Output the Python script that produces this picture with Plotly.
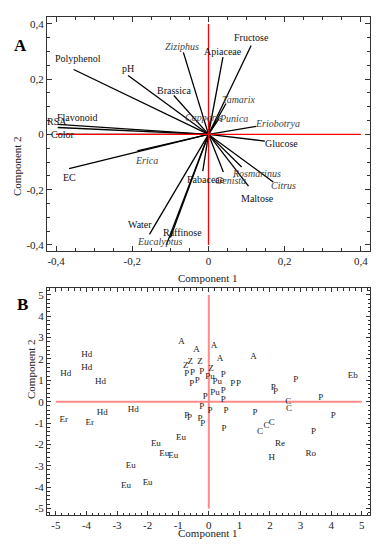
import plotly.graph_objects as go

# ---------------- Panel A: loadings (biplot vectors) ----------------
vec_names = ["Polyphenol", "pH", "Brassica", "Ziziphus", "Apiaceae", "Fructose",
             "Tamarix", "Punica", "Capparis", "Eriobotrya", "Glucose", "Rosmarinus",
             "Citrus", "Maltose", "Genista", "Fabaceae", "Water", "Raffinose",
             "Eucalyptus", "Erica", "EC", "Flavonoid", "RSA", "Color"]
vec_x = [-0.354, -0.211, -0.091, -0.066, 0.038, 0.112,
         0.046, 0.028, 0.004, 0.125, 0.148, 0.087,
         0.170, 0.105, 0.039, -0.015, -0.155, -0.100,
         -0.111, -0.187, -0.366, -0.396, -0.396, -0.400]
vec_y = [0.235, 0.213, 0.141, 0.297, 0.280, 0.322,
         0.112, 0.058, 0.047, 0.029, -0.024, -0.118,
         -0.172, -0.187, -0.136, -0.133, -0.362, -0.373,
         -0.401, -0.060, -0.124, 0.036, 0.025, 0.000]
italic_names = {"Ziziphus", "Tamarix", "Punica", "Capparis", "Eriobotrya",
                "Rosmarinus", "Citrus", "Genista", "Eucalyptus", "Erica"}
# label offsets in pixels (style only)
label_shift = {
    "Polyphenol": (4, 11), "pH": (0, 7), "Brassica": (0, 5), "Ziziphus": (-1, 6),
    "Apiaceae": (0, 6), "Fructose": (0, 8), "Tamarix": (13, 4), "Punica": (14, 0),
    "Capparis": (-7, 4), "Eriobotrya": (21, 3), "Glucose": (17, -2),
    "Rosmarinus": (15, -6), "Citrus": (10, -4), "Maltose": (9, -12),
    "Genista": (7, -9), "Fabaceae": (3, -8), "Water": (-9, 10),
    "Raffinose": (12, 5), "Eucalyptus": (-6, 4), "Erica": (9, -10),
    "EC": (0, -9), "Flavonoid": (20, 7), "RSA": (-1, 6), "Color": (6, 0),
}

# ---------------- Panel B: scores ----------------
pt_labels = (["Hd"] * 6 + ["Er"] * 2 + ["Eu"] * 7 + ["A"] * 5 + ["Z"] * 4 +
             ["Pu"] * 3 + ["P"] * 26 + ["C"] * 5 + ["Eb", "Re", "H", "Ro"])
pt_x = [-4.68, -3.99, -3.99, -3.54, -3.48, -2.47,
        -4.74, -3.89,
        -2.55, -2.71, -2.00, -1.73, -1.46, -1.16, -0.91,
        -0.89, -0.40, 0.17, 0.37, 1.46,
        -0.75, -0.61, -0.29, 0.07,
        0.04, 0.28, 0.20,
        -0.72, -0.53, -0.23, 0.47, -0.56, -0.38, 0.78, 0.97, 0.47, -0.12,
        0.47, -0.23, 0.04, 0.56, -0.72, -0.63, -0.29, -0.20, 0.50, 1.51,
        2.11, 2.18, 2.84, 3.66, 3.42, 4.07,
        2.60, 2.62, 1.67, 1.89, 2.06,
        4.71, 2.33, 2.06, 3.33]
pt_y = [1.33, 2.19, 1.61, 0.91, -0.52, -0.36,
        -0.86, -0.97,
        -3.01, -3.94, -3.80, -1.95, -2.45, -2.53, -1.67,
        2.81, 2.42, 2.64, 2.02, 2.08,
        1.67, 1.85, 1.85, 1.52,
        1.17, 0.94, 0.42,
        1.30, 1.36, 1.41, 1.25, 0.86, 0.98, 0.83, 0.83, 0.52, 0.23,
        0.11, -0.23, -0.44, -0.44, -0.67, -0.76, -0.78, -1.05, -1.28, -0.54,
        0.63, 0.47, 1.02, 0.19, -1.43, -0.67,
        0.00, -0.31, -1.41, -1.13, -0.97,
        1.20, -1.95, -2.65, -2.45]

# ---------------- Figure ----------------
W, H = 384, 550
SERIF = "Liberation Serif, Times New Roman, Times, serif"

def px2paper_x(px):
    return px / W

def px2paper_y(py):
    return 1 - py / H

fig = go.Figure()

# Vectors of panel A
lx, ly = [], []
for x, y in zip(vec_x, vec_y):
    lx += [0, x, None]
    ly += [0, y, None]
fig.add_trace(go.Scatter(x=lx, y=ly, mode="lines", line=dict(color="black", width=1.3),
                         xaxis="x", yaxis="y", hoverinfo="skip", showlegend=False))
# red axes lines panel A
fig.add_trace(go.Scatter(x=[-0.4, 0.4], y=[0, 0], mode="lines", line=dict(color="red", width=1.3),
                         xaxis="x", yaxis="y", showlegend=False, hoverinfo="skip"))
fig.add_trace(go.Scatter(x=[0, 0], y=[-0.4, 0.4], mode="lines", line=dict(color="red", width=1.3),
                         xaxis="x", yaxis="y", showlegend=False, hoverinfo="skip"))

annotations = []
for name, x, y in zip(vec_names, vec_x, vec_y):
    dx, dy = label_shift[name]
    txt = f"<i>{name}</i>" if name in italic_names else name
    annotations.append(dict(x=x, y=y, xref="x", yref="y", text=txt, showarrow=False,
                            xshift=dx, yshift=dy,
                            font=dict(family=SERIF, size=10,
                                      color="#444" if name in italic_names else "#111")))

# red axes lines panel B
fig.add_trace(go.Scatter(x=[-5, 5], y=[0, 0], mode="lines", line=dict(color="#ff8a8a", width=2),
                         xaxis="x2", yaxis="y2", showlegend=False, hoverinfo="skip"))
fig.add_trace(go.Scatter(x=[0, 0], y=[-5, 5], mode="lines", line=dict(color="#ff8a8a", width=2),
                         xaxis="x2", yaxis="y2", showlegend=False, hoverinfo="skip"))
# score labels panel B
fig.add_trace(go.Scatter(x=pt_x, y=pt_y, mode="text", text=pt_labels,
                         textposition="middle center",
                         textfont=dict(family=SERIF, size=9, color="#222"),
                         xaxis="x2", yaxis="y2", showlegend=False, hoverinfo="skip"))

xdom = [px2paper_x(47), px2paper_x(370)]
axis_common = dict(showline=True, linecolor="#333", linewidth=1, mirror="ticks",
                   ticks="inside", tickcolor="#333", showgrid=False, zeroline=False,
                   automargin=False,
                   tickfont=dict(family=SERIF, size=11, color="#222"))

fig.update_layout(
    width=W, height=H, margin=dict(l=0, r=0, t=0, b=0, autoexpand=False),
    plot_bgcolor="white", paper_bgcolor="white", showlegend=False,
    font=dict(family=SERIF),
    xaxis=dict(domain=xdom, range=[-0.424, 0.424], anchor="y",
               tickvals=[-0.4, -0.2, 0, 0.2, 0.4],
               ticktext=["-0,4", "-0,2", "0", "0,2", "0,4"], ticklen=5,
               minor=dict(ticks="inside", dtick=0.05, ticklen=3, tickcolor="#333"),
               **axis_common),
    yaxis=dict(domain=[px2paper_y(251), px2paper_y(17)], range=[-0.422, 0.425], anchor="x",
               tickvals=[-0.4, -0.2, 0, 0.2, 0.4],
               ticktext=["-0,4", "-0,2", "0", "0,2", "0,4"], ticklen=5,
               minor=dict(ticks="inside", dtick=0.05, ticklen=3, tickcolor="#333"),
               **axis_common),
    xaxis2=dict(domain=xdom, range=[-5.29, 5.27], anchor="y2",
                tickvals=[-5, -4, -3, -2, -1, 0, 1, 2, 3, 4, 5],
                ticktext=["-5", "-4", "-3", "-2", "-1", "0", "1", "2", "3", "4", "5"], ticklen=4,
                minor=dict(ticks="inside", dtick=0.2, ticklen=2.5, tickcolor="#333"),
                **axis_common),
    yaxis2=dict(domain=[px2paper_y(515), px2paper_y(288.3)], range=[-5.31, 5.31], anchor="x2",
                tickvals=[-5, -4, -3, -2, -1, 0, 1, 2, 3, 4, 5],
                ticktext=["-5", "-4", "-3", "-2", "-1", "0", "1", "2", "3", "4", "5"], ticklen=4,
                minor=dict(ticks="inside", dtick=0.2, ticklen=2.5, tickcolor="#333"),
                **axis_common),
)

title_font = dict(family=SERIF, size=11, color="#222")
annotations += [
    dict(x=px2paper_x(208), y=px2paper_y(278), xref="paper", yref="paper", text="Component 1",
         showarrow=False, font=title_font),
    dict(x=px2paper_x(9), y=px2paper_y(134), xref="paper", yref="paper", text="Component 2",
         showarrow=False, textangle=-90, font=title_font),
    dict(x=px2paper_x(208), y=px2paper_y(541), xref="paper", yref="paper", text="Component 1",
         showarrow=False, font=title_font),
    dict(x=px2paper_x(23), y=px2paper_y(401), xref="paper", yref="paper", text="Component 2",
         showarrow=False, textangle=-90, font=title_font),
    dict(x=px2paper_x(12), y=px2paper_y(34), xref="paper", yref="paper", text="<b>A</b>",
         showarrow=False, font=dict(family=SERIF, size=17, color="black")),
    dict(x=px2paper_x(15), y=px2paper_y(304), xref="paper", yref="paper", text="<b>B</b>",
         showarrow=False, font=dict(family=SERIF, size=17, color="black")),
]
fig.update_layout(annotations=annotations)

fig.write_html("out.html", config={"displayModeBar": False},
               post_script="document.body.style.margin='0px';")
